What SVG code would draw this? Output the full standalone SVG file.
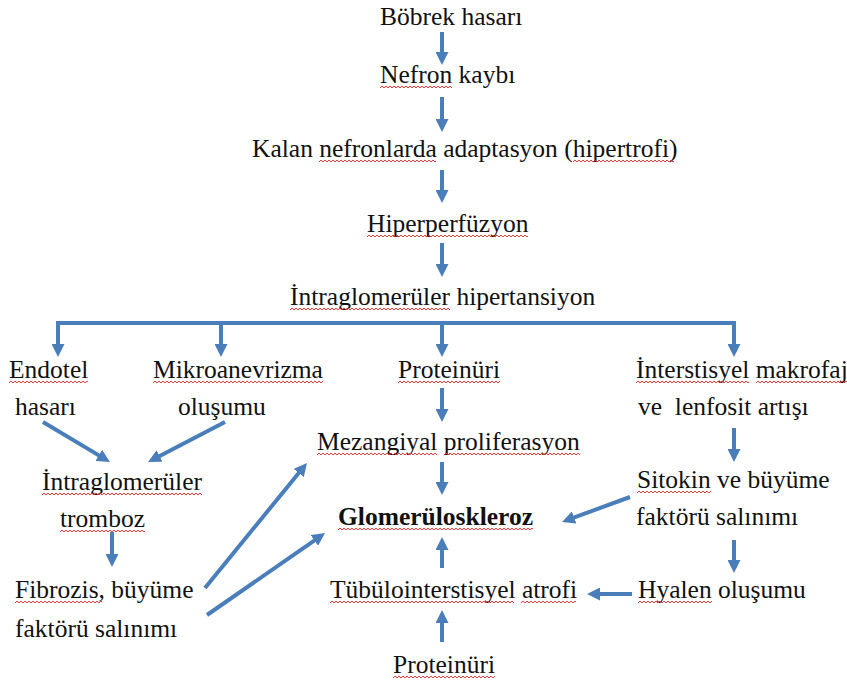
<svg xmlns="http://www.w3.org/2000/svg" width="847" height="684" viewBox="0 0 847 684">
  <defs>
    <style>
      .t text { font-size: 25.5px; fill: #111; white-space: pre; }
      .t text.b { font-weight: bold; }
      .c { stroke: #4a7ebb; stroke-width: 4; fill: none; marker-end: url(#ah); }
      .bar { stroke: #4a7ebb; stroke-width: 4; fill: none; stroke-linecap: square; }
      .sq { fill: url(#wave); }
    </style>
    <marker id="ah" markerUnits="userSpaceOnUse" markerWidth="13" markerHeight="13" refX="2" refY="6.5" orient="auto">
      <path d="M0,0 L13,6.5 L0,13 Z" fill="#4a7ebb"/>
    </marker>
    <!-- spell-check style wavy underline -->
    <pattern id="wave" patternUnits="userSpaceOnUse" width="4" height="4">
      <path d="M0,3 L2,1 L4,3" stroke="#e8262a" stroke-width="0.9" fill="none"/>
    </pattern>
  </defs>

  <rect width="847" height="684" fill="#ffffff"/>

  <!-- connectors -->
  <g id="connectors">
    <!-- main column -->
    <line class="c" x1="442" y1="32" x2="442" y2="54"/>
    <line class="c" x1="442" y1="97" x2="442" y2="121"/>
    <line class="c" x1="442" y1="170" x2="442" y2="192"/>
    <line class="c" x1="442" y1="243" x2="442" y2="266"/>
    <!-- branching bar -->
    <line class="bar" x1="58" y1="323" x2="734" y2="323"/>
    <line class="c" x1="58" y1="323" x2="58" y2="346"/>
    <line class="c" x1="221" y1="323" x2="221" y2="346"/>
    <line class="c" x1="442" y1="323" x2="442" y2="346"/>
    <line class="c" x1="734" y1="323" x2="734" y2="346"/>
    <!-- left branch -->
    <line class="c" x1="43" y1="422" x2="100.5" y2="456.4"/>
    <line class="c" x1="225" y1="422" x2="157.8" y2="456.9"/>
    <line class="c" x1="112" y1="532" x2="112" y2="556"/>
    <line class="c" x1="205" y1="588" x2="300" y2="471.5"/>
    <line class="c" x1="207" y1="615" x2="316" y2="539.3"/>
    <!-- center branch -->
    <line class="c" x1="442" y1="388" x2="442" y2="411"/>
    <line class="c" x1="442" y1="462" x2="442" y2="484"/>
    <line class="c" x1="442" y1="568" x2="442" y2="548"/>
    <line class="c" x1="442" y1="642" x2="442" y2="621"/>
    <!-- right branch -->
    <line class="c" x1="734" y1="428" x2="734" y2="451"/>
    <line class="c" x1="630" y1="497" x2="572.3" y2="518.2"/>
    <line class="c" x1="734" y1="540" x2="734" y2="562"/>
    <line class="c" x1="632" y1="594" x2="598" y2="594"/>
  </g>

  <!-- nodes -->
  <g class="t" font-family="Liberation Serif, Times New Roman, serif">
  <g id="bobrek-hasari">
    <text x="380" y="25">Böbrek hasarı</text>
  </g>
  <g id="nefron-kaybi">
    <text x="380" y="83">Nefron kaybı</text>
    <rect class="sq" width="72" height="4" transform="translate(380,85)"/>
  </g>
  <g id="adaptasyon">
    <text x="252" y="157">Kalan nefronlarda adaptasyon (hipertrofi)</text>
    <rect class="sq" width="117" height="4" transform="translate(319,159)"/>
    <rect class="sq" width="101" height="4" transform="translate(573,159)"/>
  </g>
  <g id="hiperperfuzyon">
    <text x="367" y="232">Hiperperfüzyon</text>
    <rect class="sq" width="161" height="4" transform="translate(367,234)"/>
  </g>
  <g id="intraglomeruler-hipertansiyon">
    <text x="290" y="305">İntraglomerüler hipertansiyon</text>
    <rect class="sq" width="160" height="4" transform="translate(290,307)"/>
  </g>
  <g id="endotel-hasari">
    <text x="9" y="378">Endotel</text>
    <text x="15" y="415">hasarı</text>
    <rect class="sq" width="79" height="4" transform="translate(9,380)"/>
  </g>
  <g id="mikroanevrizma">
    <text x="153" y="378">Mikroanevrizma</text>
    <text x="178" y="415">oluşumu</text>
    <rect class="sq" width="170" height="4" transform="translate(153,380)"/>
  </g>
  <g id="proteinuri-1">
    <text x="398" y="378">Proteinüri</text>
    <rect class="sq" width="102" height="4" transform="translate(398,380)"/>
  </g>
  <g id="interstisyel">
    <text x="636" y="378">İnterstisyel makrofaj</text>
    <text x="638" y="415">ve  lenfosit artışı</text>
    <rect class="sq" width="113" height="4" transform="translate(636,380)"/>
    <rect class="sq" width="92" height="4" transform="translate(756,380)"/>
  </g>
  <g id="mezangiyal">
    <text x="317" y="450">Mezangiyal proliferasyon</text>
    <rect class="sq" width="120" height="4" transform="translate(317,452)"/>
    <rect class="sq" width="136" height="4" transform="translate(444,452)"/>
  </g>
  <g id="intraglomeruler-tromboz">
    <text x="42" y="490">İntraglomerüler</text>
    <text x="60" y="527">tromboz</text>
    <rect class="sq" width="160" height="4" transform="translate(42,492)"/>
    <rect class="sq" width="85" height="4" transform="translate(60,529)"/>
  </g>
  <g id="glomeruloskleroz">
    <text class="b" x="338" y="525">Glomerüloskleroz</text>
    <rect class="sq" width="195" height="4" transform="translate(338,527)"/>
  </g>
  <g id="sitokin">
    <text x="637" y="488">Sitokin ve büyüme</text>
    <text x="636" y="525">faktörü salınımı</text>
    <rect class="sq" width="74" height="4" transform="translate(637,490)"/>
  </g>
  <g id="fibrozis">
    <text x="15" y="598">Fibrozis, büyüme</text>
    <text x="15" y="637">faktörü salınımı</text>
    <rect class="sq" width="87" height="4" transform="translate(15,600)"/>
  </g>
  <g id="tubulointerstisyel">
    <text x="330" y="598">Tübülointerstisyel atrofi</text>
    <rect class="sq" width="184" height="4" transform="translate(330,600)"/>
    <rect class="sq" width="55" height="4" transform="translate(521,600)"/>
  </g>
  <g id="hyalen">
    <text x="638" y="598">Hyalen oluşumu</text>
    <rect class="sq" width="74" height="4" transform="translate(638,600)"/>
  </g>
  <g id="proteinuri-2">
    <text x="393" y="673">Proteinüri</text>
    <rect class="sq" width="102" height="4" transform="translate(393,675)"/>
  </g>
  </g>
</svg>
